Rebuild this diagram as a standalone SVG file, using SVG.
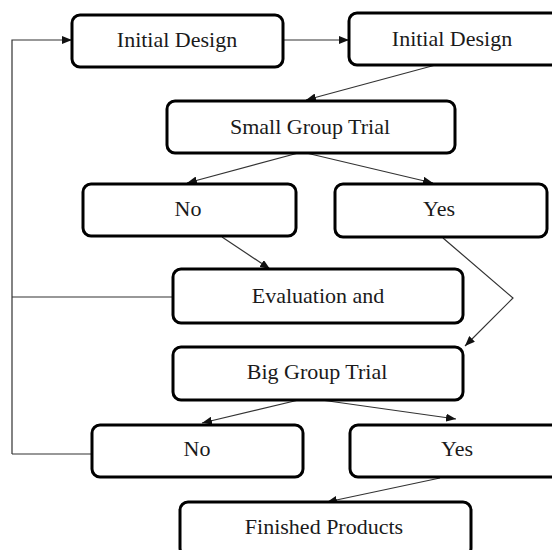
<svg xmlns="http://www.w3.org/2000/svg" width="552" height="550" viewBox="0 0 552 550">
<defs>
<marker id="ah" viewBox="0 0 10 8" refX="10" refY="4" markerWidth="10" markerHeight="8" markerUnits="userSpaceOnUse" orient="auto">
<path d="M0,0 L10,4 L0,8 Z" fill="#111"/>
</marker>
<style>
.box{fill:#fff;stroke:#000;stroke-width:3;}
.lbl{font-family:"Liberation Serif","Times New Roman",serif;font-size:22px;fill:#1a1a1a;text-anchor:middle;}
.c{fill:none;stroke:#333;stroke-width:1.2;}
.ca{fill:none;stroke:#333;stroke-width:1.2;marker-end:url(#ah);}
</style>
</defs>
<rect width="552" height="550" fill="#fff"/>
<g id="connectors">
<path class="ca" d="M12,454 L12,40 L72,40"/>
<path class="c" d="M12,297 L173,297"/>
<path class="c" d="M12,454 L92,454"/>
<path class="ca" d="M283,40 L349,40"/>
<path class="ca" d="M443,63 L306,100"/>
<path class="ca" d="M302,152 L187,183"/>
<path class="ca" d="M302,152 L433,183"/>
<path class="ca" d="M222,237 L270,269"/>
<path class="ca" d="M443,238 L513,298 L465,346"/>
<path class="ca" d="M307,398 L202,423"/>
<path class="ca" d="M307,398 L456,419"/>
<path class="ca" d="M440,478 L327,502"/>
</g>
<g id="n1"><rect class="box" x="72" y="15" width="211" height="52" rx="8"/><text class="lbl" x="177" y="47">Initial Design</text></g>
<g id="n2"><rect class="box" x="349" y="13" width="212" height="52" rx="8"/><text class="lbl" x="452" y="46">Initial Design</text></g>
<g id="n3"><rect class="box" x="167" y="101" width="288" height="52" rx="8"/><text class="lbl" x="310" y="134">Small Group Trial</text></g>
<g id="n4"><rect class="box" x="83" y="184" width="213" height="52" rx="8"/><text class="lbl" x="188" y="216">No</text></g>
<g id="n5"><rect class="box" x="335" y="184" width="212" height="53" rx="8"/><text class="lbl" x="439" y="216">Yes</text></g>
<g id="n6"><rect class="box" x="173" y="269" width="290" height="54" rx="8"/><text class="lbl" x="318" y="303">Evaluation and</text></g>
<g id="n7"><rect class="box" x="173" y="347" width="290" height="53" rx="8"/><text class="lbl" x="317" y="379">Big Group Trial</text></g>
<g id="n8"><rect class="box" x="92" y="425" width="211" height="52" rx="8"/><text class="lbl" x="197" y="456">No</text></g>
<g id="n9"><rect class="box" x="350" y="425" width="212" height="52" rx="8"/><text class="lbl" x="457" y="456">Yes</text></g>
<g id="n10"><rect class="box" x="180" y="502" width="291" height="54" rx="8"/><text class="lbl" x="324" y="534">Finished Products</text></g>
</svg>
